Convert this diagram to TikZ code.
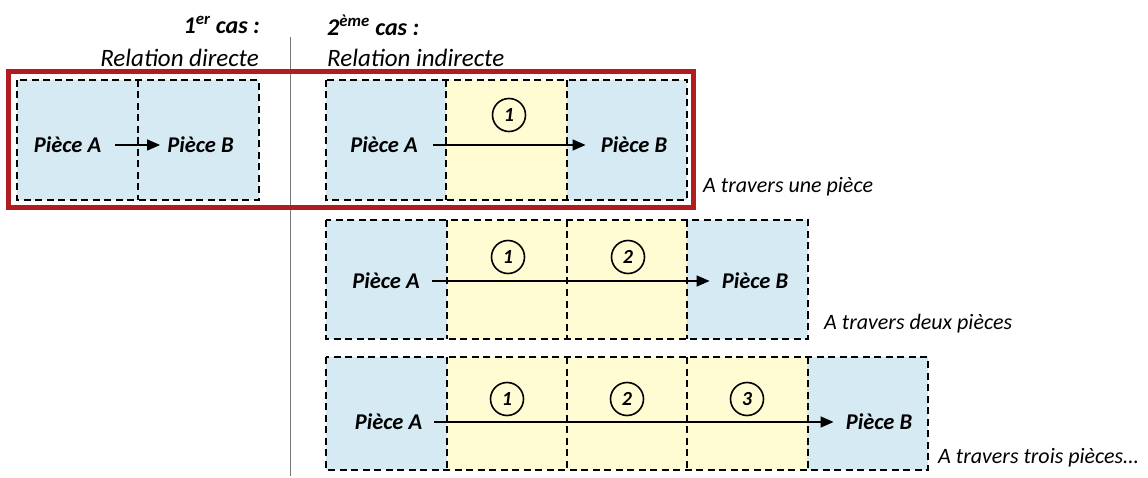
\documentclass[tikz,border=0pt]{standalone}
\usepackage{fontspec}
\setmainfont{Carlito}
\usetikzlibrary{arrows.meta}
\definecolor{lblue}{RGB}{214,234,244}
\definecolor{lyellow}{RGB}{255,252,212}
\definecolor{frred}{RGB}{176,28,32}
\definecolor{sepgray}{RGB}{120,120,120}
\tikzset{
  cell/.style={minimum width=120.5pt, minimum height=#1, inner sep=0pt, outer sep=0pt},
  cellA/.style={cell=#1, fill=lblue},
  cellY/.style={cell=#1, fill=lyellow},
  dashline/.style={draw=black, dash pattern=on 7pt off 4.5pt, line width=1.6pt},
  piece/.style={font=\fontsize{22.5}{26}\selectfont\bfseries\itshape, inner sep=0pt,
    text height=14.5pt, text depth=0pt},
  lbl/.style={font=\fontsize{25}{29}\selectfont\itshape, inner sep=0pt},
  side/.style={font=\fontsize{22}{26}\selectfont\itshape, inner sep=0pt},
  hdr/.style={font=\fontsize{24}{28}\selectfont\bfseries\itshape, inner sep=0pt},
  num/.style={circle, draw=black, line width=1.6pt, minimum size=33pt, inner sep=0pt,
    font=\fontsize{20}{22}\selectfont\bfseries\itshape},
  rel/.style={line width=1.3pt, -{Triangle[length=13pt,width=11pt]},
    shorten <=12pt, shorten >=12pt},
}
\begin{document}
\begin{tikzpicture}[x=1pt,y=-1pt]
\useasboundingbox (0,0) rectangle (1148,478);
% separator
\coordinate (s1) at (290,37);
\coordinate (s2) at (290,476);
\draw[sepgray, line width=1pt] (s1) -- (s2);
% headers
\node[hdr, anchor=east] (h1) at (260,25) {1\textsuperscript{er} cas :};
\node[lbl, anchor=east] (r1) at (259,58) {Relation directe};
\node[hdr, anchor=west] (h2) at (327,25) {2\textsuperscript{ème} cas :};
\node[lbl, anchor=west] (r2) at (327,58) {Relation indirecte};

% Case 1
\node[cellA=120pt] (c1a) at (77.5,140) {};
\node[cellA=120pt] (c1b) at (198.5,140) {};
\draw[dashline] (c1a.north west) rectangle (c1b.south east);
\draw[dashline] (c1a.north east) -- (c1a.south east);
\node[piece] (p1a) at (67.5,145) {Pièce A};
\node[piece] (p1b) at (200.5,145) {Pièce B};
\draw[rel, shorten <=14pt, shorten >=7pt] (p1a) -- (p1b);

% Row 1
\node[cellA=120pt] (r1c1) at (386,140) {};
\node[cellY=120pt] (r1c2) at (506.5,140) {};
\node[cellA=120pt] (r1c3) at (627,140) {};
\draw[dashline] (r1c1.north west) rectangle (r1c3.south east);
\foreach \c in {r1c1,r1c2} \draw[dashline] (\c.north east) -- (\c.south east);
\node[num] (r1n1) at (509,115) {1};
\node[piece] (r1pa) at (384,145) {Pièce A};
\node[piece] (r1pb) at (634,145) {Pièce B};
\draw[rel, shorten <=15pt, shorten >=15pt] (r1pa) -- (r1pb);
\node[side, anchor=west] (t1) at (703,187) {A travers une pièce};

% red frame
\node[draw=frred, line width=5pt, minimum width=685pt, minimum height=136pt,
  inner sep=0pt] (frame) at (351,140) {};

% Row 2
\node[cellA=119pt] (r2c1) at (386.5,279.5) {};
\node[cellY=119pt] (r2c2) at (507,279.5) {};
\node[cellY=119pt] (r2c3) at (627,279.5) {};
\node[cellA=119pt] (r2c4) at (747.5,279.5) {};
\draw[dashline] (r2c1.north west) rectangle (r2c4.south east);
\foreach \c in {r2c1,r2c2,r2c3} \draw[dashline] (\c.north east) -- (\c.south east);
\node[num] (r2n1) at (508,257) {1};
\node[num] (r2n2) at (628,257) {2};
\node[piece] (r2pa) at (386,281) {Pièce A};
\node[piece] (r2pb) at (755,281) {Pièce B};
\draw[rel] (r2pa) -- (r2pb);
\node[side, anchor=west] (t2) at (824,324) {A travers deux pièces};

% Row 3
\node[cellA=113pt] (r3c1) at (386.5,413.5) {};
\node[cellY=113pt] (r3c2) at (507,413.5) {};
\node[cellY=113pt] (r3c3) at (627,413.5) {};
\node[cellY=113pt] (r3c4) at (747.5,413.5) {};
\node[cellA=113pt] (r3c5) at (867.5,413.5) {};
\draw[dashline] (r3c1.north west) rectangle (r3c5.south east);
\foreach \c in {r3c1,r3c2,r3c3,r3c4} \draw[dashline] (\c.north east) -- (\c.south east);
\node[num] (r3n1) at (507,399) {1};
\node[num] (r3n2) at (627,399) {2};
\node[num] (r3n3) at (747,399) {3};
\node[piece] (r3pa) at (388.5,422) {Pièce A};
\node[piece] (r3pb) at (879,422) {Pièce B};
\draw[rel] (r3pa) -- (r3pb);
\node[side, anchor=west] (t3) at (938,458) {A travers trois pièces…};
\end{tikzpicture}
\end{document}
